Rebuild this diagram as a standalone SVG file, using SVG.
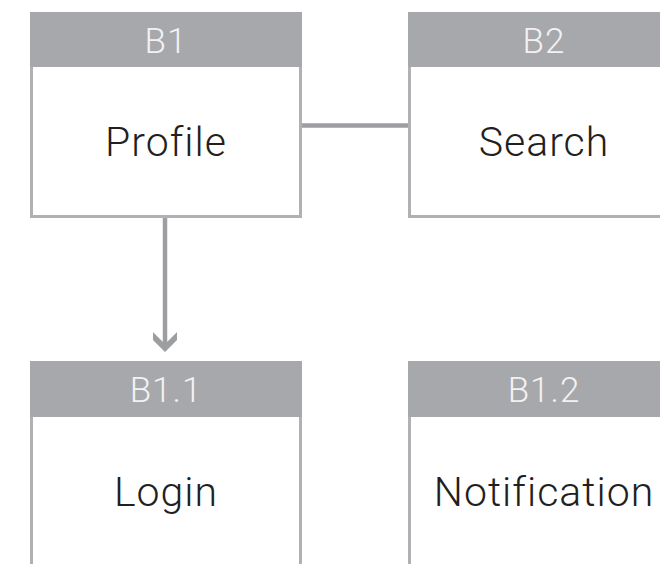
<svg xmlns="http://www.w3.org/2000/svg" width="660" height="564" viewBox="0 0 660 564">
<style>
.body{fill:#ffffff;stroke:#b0b1b4;stroke-width:3}
.head{fill:#a7a8ab}
.ht{font-family:Roboto,"Liberation Sans",sans-serif;font-size:35px;fill:#f2f2f2;text-anchor:middle;font-weight:300;letter-spacing:1px}
.bt{font-family:Roboto,"Liberation Sans",sans-serif;font-size:41px;fill:#231f20;text-anchor:middle;font-weight:300;letter-spacing:1px}
.conn{stroke:#9d9ea1;stroke-width:4.5;fill:none}
</style>
<rect width="660" height="564" fill="#ffffff"/>
<g id="connectors">
<line class="conn" x1="301" y1="125.5" x2="409" y2="125.5"/>
<line class="conn" x1="165" y1="217" x2="165" y2="346"/>
<polygon points="153,332 165,344 177,332 177,340 165,352 153,340" fill="#9d9ea1"/>
</g>
<g id="B1">
<rect class="body" x="31.5" y="60" width="269" height="156.5"/>
<rect class="head" x="30" y="12" width="272" height="55"/>
<text class="ht" x="166" y="53">B1</text>
<text class="bt" x="166" y="156">Profile</text>
</g>
<g id="B2">
<rect class="body" x="409.5" y="60" width="269" height="156.5"/>
<rect class="head" x="408" y="12" width="272" height="55"/>
<text class="ht" x="544" y="53">B2</text>
<text class="bt" x="544" y="156">Search</text>
</g>
<g id="B1.1">
<rect class="body" x="31.5" y="410" width="269" height="200"/>
<rect class="head" x="30" y="361" width="272" height="56"/>
<text class="ht" x="166" y="402">B1.1</text>
<text class="bt" x="166" y="506">Login</text>
</g>
<g id="B1.2">
<rect class="body" x="409.5" y="410" width="269" height="200"/>
<rect class="head" x="408" y="361" width="272" height="56"/>
<text class="ht" x="544" y="402">B1.2</text>
<text class="bt" x="544" y="506">Notification</text>
</g>
</svg>
